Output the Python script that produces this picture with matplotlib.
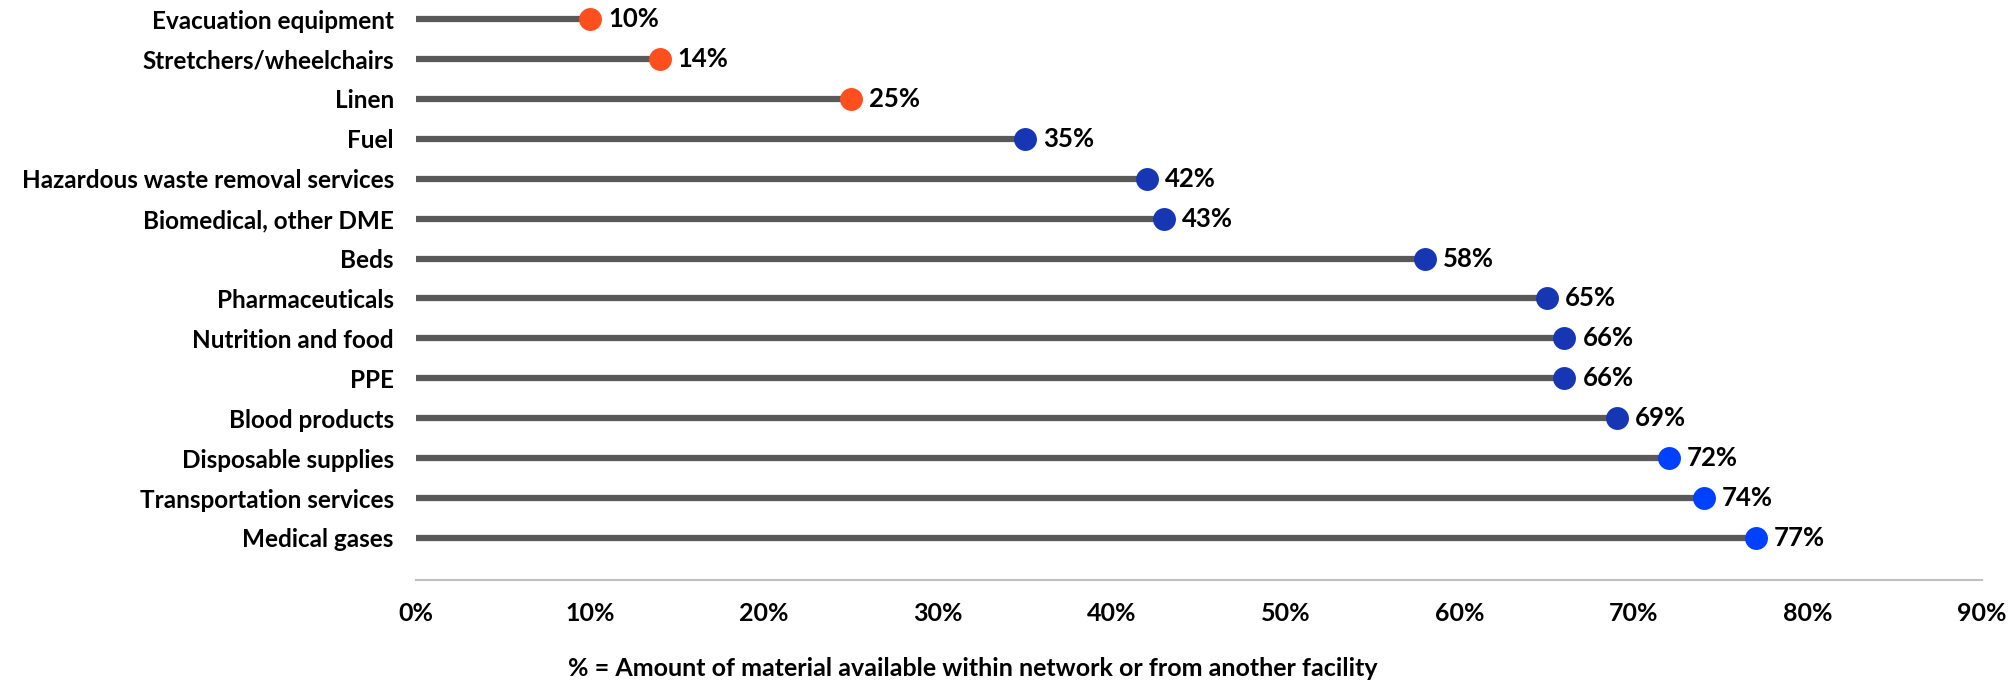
import matplotlib
matplotlib.use("Agg")
import matplotlib.pyplot as plt
from matplotlib.ticker import FuncFormatter

categories = ["Evacuation equipment", "Stretchers/wheelchairs", "Linen", "Fuel",
              "Hazardous waste removal services", "Biomedical, other DME", "Beds",
              "Pharmaceuticals", "Nutrition and food", "PPE", "Blood products",
              "Disposable supplies", "Transportation services", "Medical gases"]
values = [10, 14, 25, 35, 42, 43, 58, 65, 66, 66, 69, 72, 74, 77]
groups = ["low", "low", "low", "mid", "mid", "mid", "mid", "mid", "mid", "mid", "mid",
          "high", "high", "high"]
group_colors = {"low": "#FF4F1F", "mid": "#1636B4", "high": "#0040FF"}
xticks = [0, 10, 20, 30, 40, 50, 60, 70, 80, 90]
xlabel = "% = Amount of material available within network or from another facility"

plt.rcParams['font.family'] = ['Lato', 'DejaVu Sans']
plt.rcParams['font.weight'] = 'bold'

fig = plt.figure(figsize=(20.15, 6.84), dpi=100)
ax = fig.add_axes([416/2015, 1-580/684, (1982-416)/2015, 580/684])

ypos = list(range(len(categories)))
for y, v, g in zip(ypos, values, groups):
    ax.plot([0, v], [y, y], color="#595959", lw=4.5, solid_capstyle='butt', zorder=2)
    ax.plot([v], [y], 'o', color=group_colors[g], markersize=16.5, zorder=3,
            markeredgewidth=0)
    ax.annotate(f"{v}%", (v, y), xytext=(13, 0), textcoords='offset points',
                va='center', ha='left', fontsize=18.5, fontweight='bold', color='black')

ax.set_xlim(0, 90)
ax.set_ylim(13 + 42/39.92, -19/39.92)
ax.set_xticks(xticks)
ax.xaxis.set_major_formatter(FuncFormatter(lambda x, p: f"{int(x)}%"))
ax.set_yticks(ypos)
ax.set_yticklabels(categories)
ax.tick_params(axis='x', length=0, pad=16, labelsize=18)
ax.tick_params(axis='y', length=0, pad=16, labelsize=17.5)
for lbl in ax.get_xticklabels() + ax.get_yticklabels():
    lbl.set_fontweight('bold')
for s in ['top', 'right', 'left']:
    ax.spines[s].set_visible(False)
ax.spines['bottom'].set_color('#BFBFBF')
ax.spines['bottom'].set_linewidth(1.5)

fig.text(973/2015, 1-668/684, xlabel, ha='center', va='center', fontsize=18,
         fontweight='bold')

fig.savefig("out.png", dpi=100)
